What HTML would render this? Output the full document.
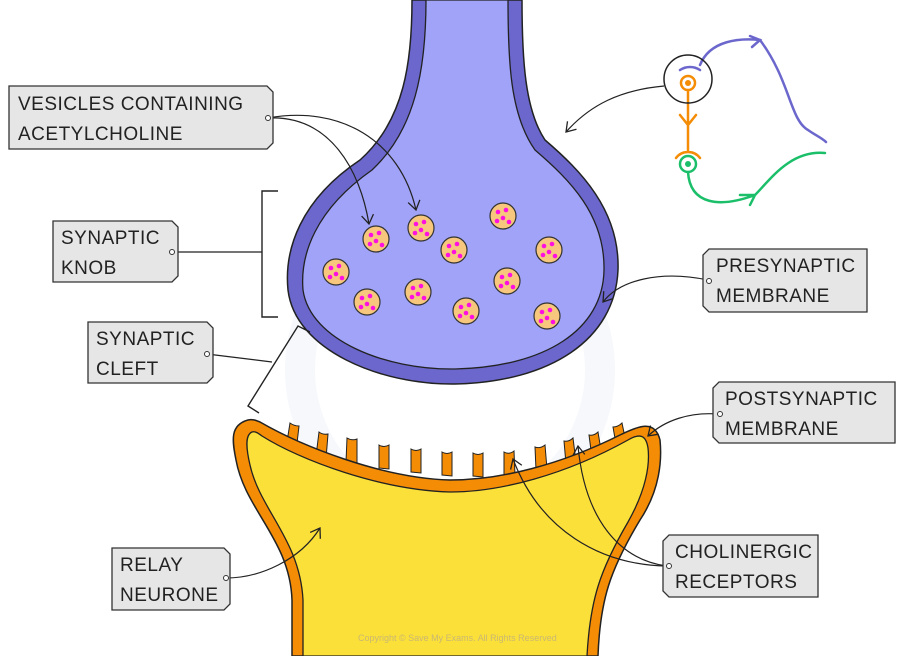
<!DOCTYPE html>
<html><head><meta charset="utf-8"><style>
html,body{margin:0;padding:0;background:#fff;}
svg{display:block;}
text{font-family:"Liberation Sans",sans-serif;font-size:19px;fill:#222;letter-spacing:0.5px;}
</style></head><body>
<svg width="902" height="656" viewBox="0 0 902 656" xmlns="http://www.w3.org/2000/svg">
<defs>
<marker id="ah" markerWidth="14" markerHeight="14" refX="10" refY="7" orient="auto" markerUnits="userSpaceOnUse">
<path d="M1,1 L10,7 L1,13" fill="none" stroke="#222" stroke-width="1.3"/></marker>
</defs>
<!-- watermark -->
<circle cx="450" cy="370" r="150" fill="none" stroke="#f6f8fc" stroke-width="30"/>
<!-- presynaptic -->
<path d="M412,0 C412,60 405,120 360,160 C300,200 284,250 288,290 C295,350 380,385 455,384 C550,382 615,340 618,270 C620,210 580,170 545,140 C525,110 522,60 522,0 Z" fill="#6b67cc" stroke="#222" stroke-width="1.5"/>
<path d="M426,0 C426,70 415,130 372,170 C315,210 300,255 303,290 C310,340 385,370 455,369 C545,367 603,330 604,270 C605,215 570,180 535,150 C510,115 508,60 508,0 Z" fill="#a0a3f7" stroke="#222" stroke-width="1.3"/>
<!-- vesicles -->
<g stroke="#333" stroke-width="1.2" fill="#f6c77c">
<circle cx="376" cy="239" r="13"/><circle cx="421" cy="228" r="13"/><circle cx="454" cy="250" r="13"/>
<circle cx="503" cy="216" r="13"/><circle cx="549" cy="250" r="13"/><circle cx="336" cy="272" r="13"/>
<circle cx="367" cy="302" r="13"/><circle cx="418" cy="292" r="13"/><circle cx="466" cy="311" r="13"/>
<circle cx="507" cy="281" r="13"/><circle cx="547" cy="316" r="13"/>
</g>
<!-- receptors (drawn under membrane) -->
<g fill="#f48c06" stroke="#222" stroke-width="1">
<path d="M286,448 l4,-25 q4,3 9,3 l-3,26z"/><path d="M316,456 l3,-24 q4,3 9,2 l-2,25z"/><path d="M346,462 l1,-24 q5,3 10,1 l0,25z"/>
<path d="M379,468 l0,-23 q5,3 10,0 l0,24z"/><path d="M411,472 l0,-23 q5,3 10,0 l0,24z"/><path d="M442,475 l0,-23 q5,3 10,0 l0,24z"/>
<path d="M473,476 l0,-23 q5,3 10,0 l0,24z"/><path d="M504,475 l0,-23 q5,3 10,-1 l1,24z"/><path d="M536,470 l-1,-23 q5,2 10,-2 l2,24z"/>
<path d="M566,464 l-2,-23 q5,1 9,-3 l3,24z"/><path d="M592,458 l-3,-23 q5,1 9,-3 l4,24z"/><path d="M617,450 l-4,-23 q5,0 9,-4 l5,24z"/>
</g>
<path d="M248,420 C230,425 232,440 236,460 C245,510 290,540 292,600 L292,656 L598,656 C600,600 610,570 640,520 C660,490 662,460 660,440 C655,420 640,425 620,435 C560,465 500,480 450,480 C380,478 300,445 260,422 C255,420 252,419 248,420 Z" fill="#f48c06" stroke="#222" stroke-width="1.5"/>
<path d="M252,432 C245,435 246,448 250,465 C260,510 300,540 303,600 L303,656 L587,656 C590,600 600,570 628,522 C646,490 650,465 648,448 C646,435 640,433 628,440 C565,475 500,492 450,492 C380,490 300,460 262,436 C258,433 255,431 252,432 Z" fill="#fce03a" stroke="#222" stroke-width="1.3"/>
<text x="358" y="641" style="font-size:9px;fill:#c9b870;letter-spacing:0">Copyright © Save My Exams. All Rights Reserved</text>
<!-- brackets -->
<path d="M278,191 L262,191 L262,317 L278,317" fill="none" stroke="#222" stroke-width="1.4"/>
<path d="M310,332 L298,326 L248,406 L259,413" fill="none" stroke="#222" stroke-width="1.4"/>
<!-- connectors -->
<g fill="none" stroke="#222" stroke-width="1.2">
<path d="M268,118 C330,115 360,170 369,224" marker-end="url(#ah)"/>
<path d="M268,118 C340,105 400,140 416,210" marker-end="url(#ah)"/>
<path d="M175,252 L262,252"/>
<path d="M207,354 L272,362"/>
<path d="M708,280 C660,270 620,280 603,302" marker-end="url(#ah)"/>
<path d="M718,414 C690,412 665,420 648,436" marker-end="url(#ah)"/>
<path d="M667,566 C600,565 540,530 513,459" marker-end="url(#ah)"/>
<path d="M667,566 C620,560 585,520 578,446" marker-end="url(#ah)"/>
<path d="M226,578 C260,578 300,560 320,528" marker-end="url(#ah)"/>
<path d="M664,86 C620,90 590,105 566,132" marker-end="url(#ah)"/>
</g>
<!-- label boxes -->
<g fill="#e6e6e6" stroke="#333" stroke-width="1.3">
<path d="M9,86 L267,86 L273,92 L273,143 L267,149 L9,149 Z"/>
<path d="M53,221 L172,221 L178,227 L178,276 L172,282 L53,282 Z"/>
<path d="M88,322 L207,322 L213,328 L213,377 L207,383 L88,383 Z"/>
<path d="M112,548 L224,548 L230,554 L230,604 L224,610 L112,610 Z"/>
<path d="M709,249 L867,249 L867,312 L709,312 L703,306 L703,255 Z"/>
<path d="M719,382 L895,382 L895,443 L719,443 L713,437 L713,388 Z"/>
<path d="M669,535 L818,535 L818,597 L669,597 L663,591 L663,541 Z"/>
</g>
<g fill="#fff" stroke="#333" stroke-width="1">
<circle cx="268" cy="118" r="2.5"/><circle cx="172" cy="252" r="2.5"/><circle cx="207" cy="354" r="2.5"/>
<circle cx="226" cy="578" r="2.5"/><circle cx="709" cy="281" r="2.5"/><circle cx="720" cy="414" r="2.5"/><circle cx="669" cy="566" r="2.5"/>
</g>
<text x="18" y="110">VESICLES  CONTAINING</text><text x="18" y="140">ACETYLCHOLINE</text>
<text x="61" y="244">SYNAPTIC</text><text x="61" y="274">KNOB</text>
<text x="96" y="345">SYNAPTIC</text><text x="96" y="375">CLEFT</text>
<text x="120" y="571">RELAY</text><text x="120" y="601">NEURONE</text>
<text x="716" y="272">PRESYNAPTIC</text><text x="716" y="302">MEMBRANE</text>
<text x="725" y="405">POSTSYNAPTIC</text><text x="725" y="435">MEMBRANE</text>
<text x="675" y="558">CHOLINERGIC</text><text x="675" y="588">RECEPTORS</text>
<!-- icon -->
<g fill="none" stroke-width="2.5" stroke-linecap="round">
<path d="M700,65 C710,40 740,38 760,40 M750,36 l10,4 l-8,7" stroke="#6b67cc"/>
<path d="M760,40 C790,80 790,120 808,130 C815,135 822,138 826,142" stroke="#6b67cc"/>
<path d="M680,70 C686,66 694,66 700,70" stroke="#6b67cc"/>
<circle cx="688" cy="83" r="7" stroke="#f48c06"/>
<path d="M688,90 L688,150 M680,115 L688,125 L696,115 M676,158 C682,150 694,150 700,158" stroke="#f48c06"/>
<circle cx="688" cy="164" r="8" stroke="#1bbf6a"/>
<path d="M688,172 C690,205 720,208 755,195 C770,180 790,150 825,153 M740,195 l15,0 l-5,10" stroke="#1bbf6a"/>
</g>
<circle cx="688" cy="83" r="3" fill="#f48c06"/><circle cx="688" cy="164" r="3" fill="#1bbf6a"/>
<circle cx="688" cy="79" r="24" fill="none" stroke="#222" stroke-width="1.5"/>
<!-- vesicle dots -->
<g fill="#ff10e0">
<circle cx="371" cy="235" r="2.3"/><circle cx="379" cy="233" r="2.3"/><circle cx="376" cy="241" r="2.3"/><circle cx="370" cy="244" r="2.3"/><circle cx="382" cy="245" r="2.3"/>
<circle cx="416" cy="224" r="2.3"/><circle cx="424" cy="222" r="2.3"/><circle cx="421" cy="230" r="2.3"/><circle cx="415" cy="233" r="2.3"/><circle cx="427" cy="234" r="2.3"/>
<circle cx="449" cy="246" r="2.3"/><circle cx="457" cy="244" r="2.3"/><circle cx="454" cy="252" r="2.3"/><circle cx="448" cy="255" r="2.3"/><circle cx="460" cy="256" r="2.3"/>
<circle cx="498" cy="212" r="2.3"/><circle cx="506" cy="210" r="2.3"/><circle cx="503" cy="218" r="2.3"/><circle cx="497" cy="221" r="2.3"/><circle cx="509" cy="222" r="2.3"/>
<circle cx="544" cy="246" r="2.3"/><circle cx="552" cy="244" r="2.3"/><circle cx="549" cy="252" r="2.3"/><circle cx="543" cy="255" r="2.3"/><circle cx="555" cy="256" r="2.3"/>
<circle cx="331" cy="268" r="2.3"/><circle cx="339" cy="266" r="2.3"/><circle cx="336" cy="274" r="2.3"/><circle cx="330" cy="277" r="2.3"/><circle cx="342" cy="278" r="2.3"/>
<circle cx="362" cy="298" r="2.3"/><circle cx="370" cy="296" r="2.3"/><circle cx="367" cy="304" r="2.3"/><circle cx="361" cy="307" r="2.3"/><circle cx="373" cy="308" r="2.3"/>
<circle cx="413" cy="288" r="2.3"/><circle cx="421" cy="286" r="2.3"/><circle cx="418" cy="294" r="2.3"/><circle cx="412" cy="297" r="2.3"/><circle cx="424" cy="298" r="2.3"/>
<circle cx="461" cy="307" r="2.3"/><circle cx="469" cy="305" r="2.3"/><circle cx="466" cy="313" r="2.3"/><circle cx="460" cy="316" r="2.3"/><circle cx="472" cy="317" r="2.3"/>
<circle cx="502" cy="277" r="2.3"/><circle cx="510" cy="275" r="2.3"/><circle cx="507" cy="283" r="2.3"/><circle cx="501" cy="286" r="2.3"/><circle cx="513" cy="287" r="2.3"/>
<circle cx="542" cy="312" r="2.3"/><circle cx="550" cy="310" r="2.3"/><circle cx="547" cy="318" r="2.3"/><circle cx="541" cy="321" r="2.3"/><circle cx="553" cy="322" r="2.3"/>
</g>
</svg>
</body></html>
